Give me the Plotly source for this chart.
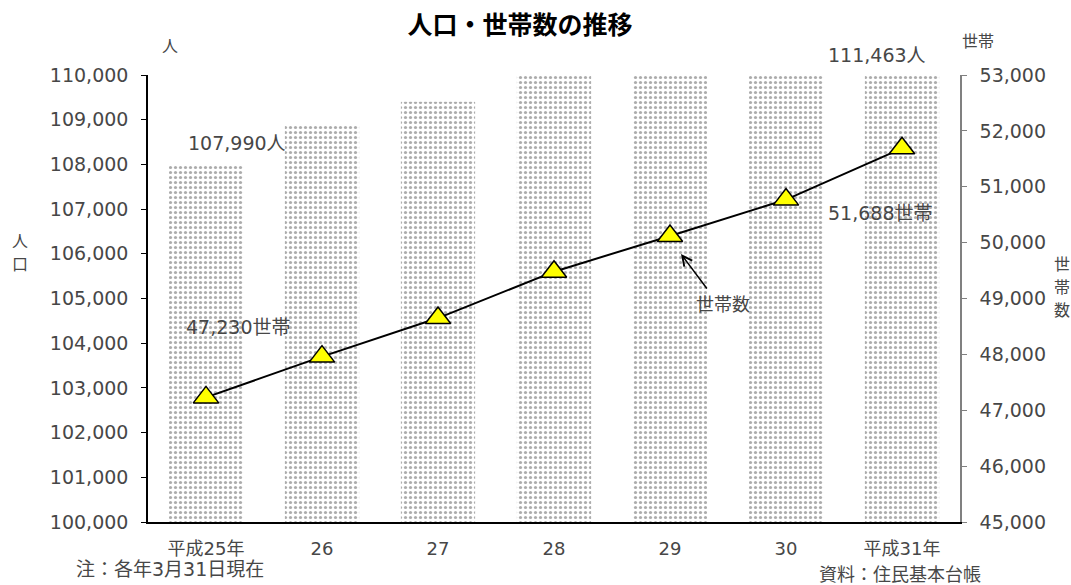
import plotly.graph_objects as go

categories = ["平成25年", "26", "27", "28", "29", "30", "平成31年"]
population = [107990, 108860, 109400, 110150, 110650, 111050, 111463]
households = [47230, 47960, 48650, 49480, 50120, 50770, 51688]

FONT = "DejaVu Sans, Noto Sans CJK JP"
CJK = "Noto Sans CJK JP"
TXT = "#474747"

fig = go.Figure()
fig.add_trace(go.Bar(
    x=categories, y=population, yaxis="y", width=0.64,
    marker=dict(color="white", line=dict(width=0),
                pattern=dict(shape=".", fgcolor="#5a5a5a", bgcolor="white",
                             size=5, solidity=0.33)),
    showlegend=False, hoverinfo="skip"))
fig.add_trace(go.Scatter(
    x=categories, y=households, yaxis="y2", mode="lines+markers",
    line=dict(color="black", width=2),
    marker=dict(symbol="triangle-up", size=22, color="#FFFF00",
                line=dict(color="black", width=1.5)),
    showlegend=False))

fig.update_layout(
    width=1071, height=585,
    margin=dict(l=148, r=111, t=75, b=63, autoexpand=False),
    paper_bgcolor="white", plot_bgcolor="white",
    font=dict(family=FONT, size=16, color=TXT),
    xaxis=dict(type="category", showline=True, linecolor="black", linewidth=1.5,
               ticks="", showgrid=False, automargin=False, ticklabelstandoff=10,
               tickfont=dict(size=18, color=TXT, family=FONT)),
    yaxis=dict(range=[100000, 110000], dtick=1000, tickformat=",d",
               showline=True, linecolor="black", linewidth=1.5, ticks="outside",
               ticklen=5, tickcolor="black", showgrid=False, zeroline=False,
               automargin=False, ticklabelstandoff=9,
               tickfont=dict(size=19, color=TXT, family="DejaVu Sans")),
    yaxis2=dict(range=[45000, 53000], dtick=1000, tickformat=",d", overlaying="y",
                side="right", showline=True, linecolor="#808080", linewidth=1.5,
                ticks="outside", ticklen=5, tickcolor="#808080", showgrid=False,
                zeroline=False, automargin=False, ticklabelstandoff=9,
                tickfont=dict(size=19, color=TXT, family="DejaVu Sans")),
    title=dict(text="<b>人口・世帯数の推移</b>", x=(520 - 148) / 812, xanchor="center",
               xref="paper", yref="container",
               y=1 - 25 / 585, yanchor="middle", automargin=False,
               font=dict(size=25, color="black", family=CJK)),
)

L, R, T, B = 148, 960, 75, 522
def pp(xp, yp):
    return (xp - L) / (R - L), (B - yp) / (B - T)

def ann(text, xp, yp, size=19, family=FONT):
    x, y = pp(xp, yp)
    fig.add_annotation(text=text, x=x, y=y, xref="paper", yref="paper",
                       xanchor="center", yanchor="middle", showarrow=False,
                       font=dict(size=size, color=TXT, family=family))

ann("人", 170, 45, size=16, family=CJK)
ann("世帯", 978, 40, size=16, family=CJK)
# vertical axis titles, one character per line
ann("人", 20, 240, size=16, family=CJK)
ann("口", 20, 263, size=16, family=CJK)
ann("世", 1062, 263, size=16, family=CJK)
ann("帯", 1062, 286, size=16, family=CJK)
ann("数", 1062, 309, size=16, family=CJK)
ann("107,990人", 237, 143)
ann("111,463人", 877, 55)
ann("47,230世帯", 238, 327)
ann("51,688世帯", 880, 213)
ann("世帯数", 723, 304, size=18)
ann("注：各年3月31日現在", 170, 569, size=19)
ann("資料：住民基本台帳", 900, 574, size=18)

# arrow pointing at the 29 marker
ax1, ay1 = pp(681, 254)
fig.add_annotation(x=ax1, y=ay1, ax=27, ay=36, xref="paper", yref="paper",
                   axref="pixel", ayref="pixel", text="", showarrow=True,
                   arrowhead=5, arrowsize=1.3, arrowwidth=1.5, arrowcolor="black")

fig.write_html("out.html", config={"displayModeBar": False},
               post_script="document.body.style.margin='0';document.body.style.overflow='hidden';")
